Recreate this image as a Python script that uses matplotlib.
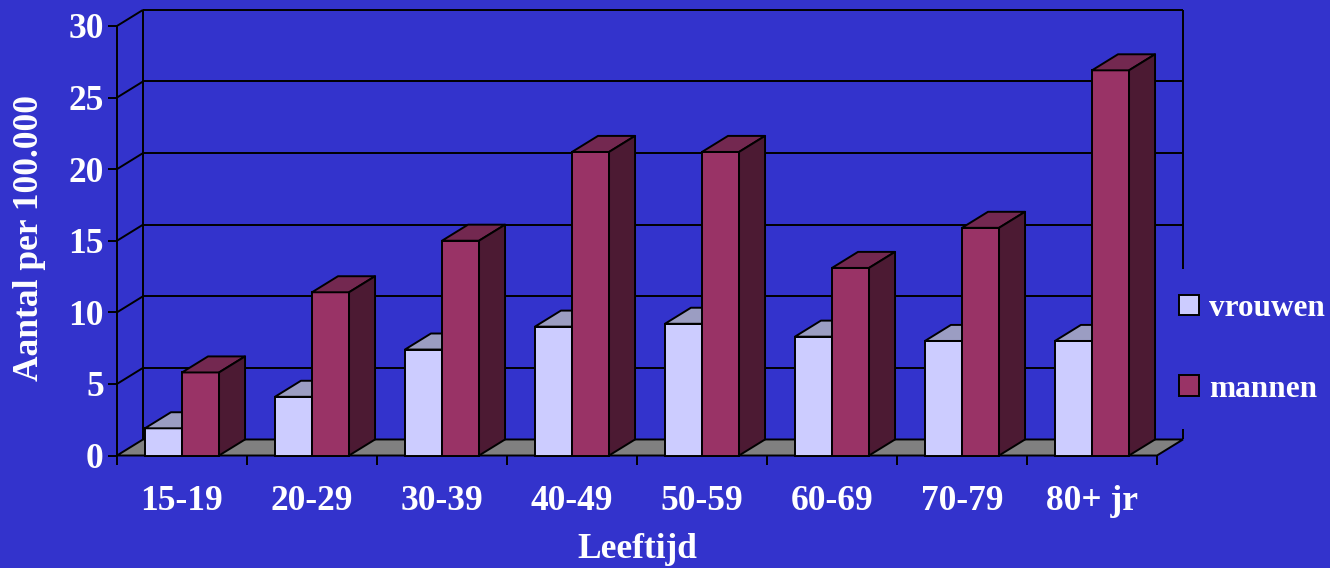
import matplotlib
matplotlib.use("Agg")
import matplotlib.pyplot as plt
from matplotlib.patches import Polygon, Patch

# Suicide rate per 100,000 inhabitants by age group
categories = ["15-19", "20-29", "30-39", "40-49", "50-59", "60-69", "70-79", "80+ jr"]
vrouwen = [1.9, 4.1, 7.4, 9.0, 9.2, 8.3, 8.0, 8.0]
mannen = [5.8, 11.4, 15.0, 21.2, 21.2, 13.1, 15.9, 26.9]
series_names = ["vrouwen", "mannen"]
y_ticks = [0, 5, 10, 15, 20, 25, 30]

BG = "#3333CC"
FRONT = ["#CCCCFF", "#993366"]
TOP = ["#9B9DC2", "#732850"]
SIDE = ["#8888AA", "#4C1A33"]
FLOOR = "#808080"
LW = 1.4

# pseudo-3D depth offset expressed in data units
DX, DY = 0.2, 1.12
BAR_W = 0.285
YMAX = 30
n = len(categories)

plt.rcParams["font.family"] = ["Liberation Serif", "DejaVu Serif"]
plt.rcParams["font.weight"] = "bold"

fig = plt.figure(figsize=(13.3, 5.68), dpi=100, facecolor=BG)
ax = fig.add_axes([117 / 1330, 0.19806, 0.80150, 0.78451])
ax.set_facecolor("none")
ax.set_xlim(0, n + DX)
ax.set_ylim(0, YMAX + DY)
for s in ax.spines.values():
    s.set_visible(False)

line_kw = dict(color="black", lw=LW, clip_on=False, solid_capstyle="butt")

# back wall: gridlines, edges and the links to the front value axis
for v in y_ticks[1:]:
    ax.plot([DX, n + DX], [v + DY, v + DY], zorder=1, **line_kw)
    ax.plot([0, DX], [v, v + DY], zorder=1, **line_kw)
ax.plot([DX, DX], [DY, YMAX + DY], zorder=1, **line_kw)
ax.plot([n + DX, n + DX], [DY, YMAX + DY], zorder=1, **line_kw)
ax.plot([0, 0], [0, YMAX], zorder=6, **line_kw)

# floor
ax.add_patch(Polygon([(0, 0), (n, 0), (n + DX, DY), (DX, DY)], closed=True,
                     facecolor=FLOOR, edgecolor="black", lw=LW, zorder=2,
                     clip_on=False))

# bars: front faces via bar(), tops and sides as polygons from the same values
offsets = [0.5 - BAR_W / 2, 0.5 + BAR_W / 2]
for k, vals in enumerate([vrouwen, mannen]):
    xs = [i + offsets[k] for i in range(n)]
    z = 3 + k
    ax.bar(xs, vals, width=BAR_W, color=FRONT[k], edgecolor="black",
           linewidth=LW, zorder=z, clip_on=False)
    for x, v in zip(xs, vals):
        x0, x1 = x - BAR_W / 2, x + BAR_W / 2
        ax.add_patch(Polygon([(x0, v), (x1, v), (x1 + DX, v + DY), (x0 + DX, v + DY)],
                             closed=True, facecolor=TOP[k], edgecolor="black",
                             lw=LW, zorder=z, joinstyle="round", clip_on=False))
        ax.add_patch(Polygon([(x1, 0), (x1 + DX, DY), (x1 + DX, v + DY), (x1, v)],
                             closed=True, facecolor=SIDE[k], edgecolor="black",
                             lw=LW, zorder=z, joinstyle="round", clip_on=False))

# axes ticks and labels
ax.set_yticks(y_ticks)
ax.set_yticklabels([str(t) for t in y_ticks])
ax.tick_params(axis="y", which="major", direction="out", length=6.5, width=LW,
               color="black", labelcolor="white", labelsize=25.5, pad=3)
ax.set_xticks([i + 0.5 for i in range(n)])
ax.set_xticklabels(categories)
ax.set_xticks(range(n + 1), minor=True)
ax.tick_params(axis="x", which="major", length=0, labelcolor="white",
               labelsize=25.5, pad=21)
ax.tick_params(axis="x", which="minor", direction="out", length=6.5, width=LW,
               color="black")
for lab in ax.get_xticklabels() + ax.get_yticklabels():
    lab.set_fontweight("bold")

fig.text(30 / 1330, 1 - 237.5 / 568, "Aantal per 100.000", rotation=90,
         ha="center", va="center", color="white", fontsize=25.5, fontweight="bold")
fig.text(637 / 1330, 1 - 550 / 568, "Leeftijd", ha="center", va="center",
         color="white", fontsize=25.5, fontweight="bold")

handles = [Patch(facecolor=FRONT[k], edgecolor="black", lw=LW) for k in range(2)]
leg = ax.legend(handles, series_names, loc="upper left",
                bbox_to_anchor=(1154 / 1330, 1 - 269 / 568),
                bbox_transform=fig.transFigure, borderaxespad=0,
                frameon=True, facecolor=BG, edgecolor="none", framealpha=1,
                fancybox=False, borderpad=0.8, labelspacing=1.65,
                handlelength=0.65, handleheight=0.65, handletextpad=0.3,
                prop={"size": 22.5, "weight": "bold"})
for t in leg.get_texts():
    t.set_color("white")
leg.set_zorder(2.5)

fig.savefig("out.png", dpi=100, facecolor=BG)
